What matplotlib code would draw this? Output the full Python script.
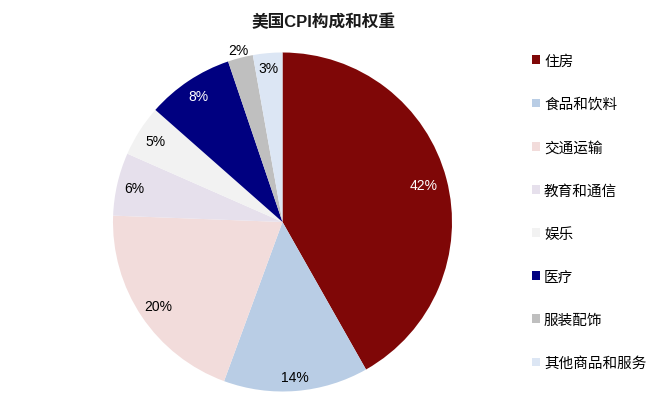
import matplotlib
matplotlib.use("Agg")
import matplotlib.pyplot as plt
import numpy as np

plt.rcParams['font.family'] = ['Liberation Sans', 'Noto Sans CJK SC', 'DejaVu Sans']

title = "美国CPI构成和权重"
categories = ["住房", "食品和饮料", "交通运输", "教育和通信", "娱乐", "医疗", "服装配饰", "其他商品和服务"]
values = [41.8, 13.8, 20.0, 6.0, 4.9, 8.3, 2.4, 2.8]
colors = ["#7F0707", "#B9CDE5", "#F2DCDB", "#E6E0EC", "#F2F2F2", "#000080", "#BFBFBF", "#DCE6F4"]
label_colors = ["white", "black", "black", "black", "black", "white", "black", "black"]
label_radius = [0.86, 0.915, 0.885, 0.90, 0.89, 0.89, 1.045, 0.91]

fig = plt.figure(figsize=(6.55, 4.02), dpi=100)
R_px = 339
ax = fig.add_axes([113/655, (402 - 392.5)/402, R_px/655, R_px/402])

wedges, _ = ax.pie(values, colors=colors, startangle=90, counterclock=False,
                   radius=1, wedgeprops=dict(linewidth=0))

total = sum(values)
cum = 0
for i, v in enumerate(values):
    mid = 90 - (cum + v / 2) / total * 360
    cum += v
    r = label_radius[i]
    x = r * np.cos(np.radians(mid))
    y = r * np.sin(np.radians(mid))
    ax.text(x, y, f"{v:.0f}%", ha="center", va="center", fontsize=10,
            color=label_colors[i])

ax.set_xlim(-1, 1)
ax.set_ylim(-1, 1)
ax.set_aspect("auto")

fig.text(324/655, 1 - 22/402, title, ha="center", va="center", fontsize=12,
         fontweight="bold", color="#1a1a1a")

leg = fig.legend(wedges, categories, loc="upper left",
                 bbox_to_anchor=(532/655, 1 - 55/402), frameon=False,
                 fontsize=10.5, labelspacing=2.0, handlelength=0.55,
                 handleheight=0.55, handletextpad=0.27, borderpad=0, borderaxespad=0)
for h in leg.legend_handles:
    h.set_edgecolor("none")
for t in leg.get_texts():
    t.set_fontweight("medium")
    t.set_color("black")

fig.savefig("out.png", dpi=100)
